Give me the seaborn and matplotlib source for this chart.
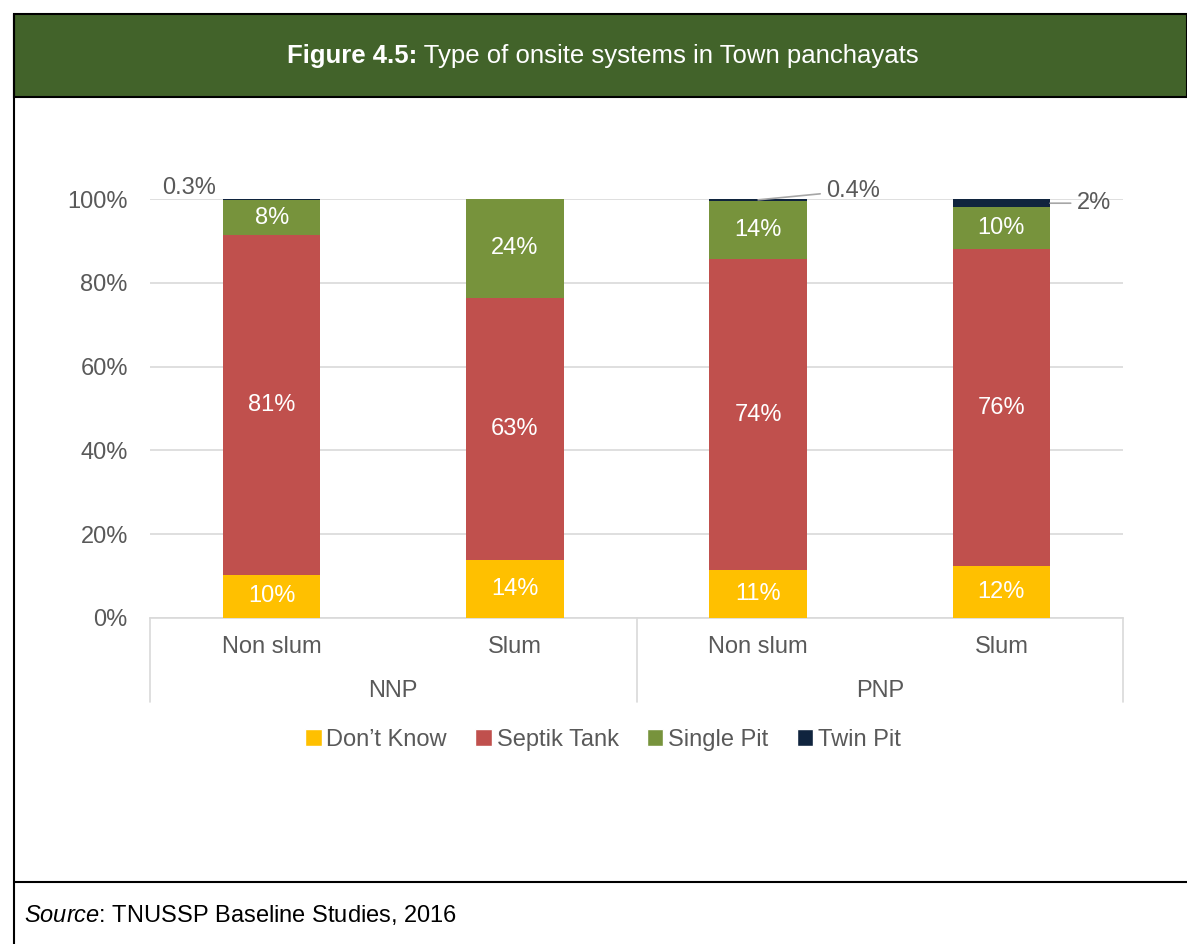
import numpy as np
import pandas as pd
import matplotlib.pyplot as plt
from matplotlib.patches import Rectangle, Patch
from matplotlib.lines import Line2D
import matplotlib.transforms as mtrans
import seaborn as sns

sns.set_theme(style="white")
plt.rcParams['font.family'] = ['Liberation Sans', 'DejaVu Sans']
plt.rcParams['mathtext.fontset'] = 'custom'
plt.rcParams['mathtext.rm'] = 'Liberation Sans'
plt.rcParams['mathtext.bf'] = 'Liberation Sans:bold'
plt.rcParams['mathtext.it'] = 'Liberation Sans:italic'

# data
groups = ["NNP", "NNP", "PNP", "PNP"]
areas = ["Non slum", "Slum", "Non slum", "Slum"]
types = ["Don’t Know", "Septik Tank", "Single Pit", "Twin Pit"]
dont_know = [10.3, 13.8, 11.4, 12.3]
septik_tank = [81.1, 62.6, 74.3, 75.8]
single_pit = [8.3, 23.6, 13.9, 9.9]
twin_pit = [0.3, 0.0, 0.4, 2.0]
colors = ["#FFC000", "#C0504D", "#77933C", "#10243E"]

GREY = "#595959"
FS = 17

pos = [str(i) for i in range(len(areas))]
series = [dont_know, septik_tank, single_pit, twin_pit]
cum = np.cumsum(np.array(series), axis=0)
rows = []
for t, vals, cvals in zip(types, series, cum):
    for p, v, c in zip(pos, vals, cvals):
        rows.append({"pos": p, "type": t, "value": v, "cum": c})
df = pd.DataFrame(rows)

fig = plt.figure(figsize=(11.87, 9.44), dpi=100)

# frame / header
W, H = 1187, 944
def fx(x): return x / W
def fy(y): return 1 - y / H
fig.add_artist(Rectangle((fx(14), fy(97)), 1 - fx(14), fy(14) - fy(97),
                         transform=fig.transFigure, facecolor="#42632A",
                         edgecolor="black", linewidth=1.5))
fig.add_artist(Line2D([fx(14), fx(14)], [fy(14), 0], transform=fig.transFigure,
                      color="black", linewidth=1.5))
fig.add_artist(Line2D([fx(14), 1], [fy(882), fy(882)], transform=fig.transFigure,
                      color="black", linewidth=1.5))

# title: bold part + regular part, centred together
renderer = fig.canvas.get_renderer()
t1 = fig.text(0, fy(56), "Figure 4.5:", color="white", fontsize=18.5,
              fontweight="bold", ha="left", va="center")
t2 = fig.text(0, fy(56), " Type of onsite systems in Town panchayats", color="white",
              fontsize=18.5, ha="left", va="center")
w1 = t1.get_window_extent(renderer).width
w2 = t2.get_window_extent(renderer).width
x0 = 603 - (w1 + w2) / 2
t1.set_x(fx(x0))
t2.set_x(fx(x0 + w1))

fig.text(fx(24), fy(915), r"$\it{Source}$: TNUSSP Baseline Studies, 2016",
         color="black", fontsize=17, ha="left", va="center")

ax = fig.add_axes([fx(150), fy(618), fx(1123) - fx(150), fy(199) - fy(618)])

# stacked bars by overlapping cumulative totals
for t, col in reversed(list(zip(types, colors))):
    sns.barplot(data=df[df["type"] == t], x="pos", y="cum", order=pos, color=col,
                saturation=1, width=0.4, errorbar=None, ax=ax, zorder=3,
                linewidth=0, edgecolor="none")

ax.set_xlim(-0.5, 3.5)
ax.set_ylim(0, 100)
ax.set_yticks(np.arange(0, 101, 20))
ax.set_yticklabels([f"{v}%" for v in range(0, 101, 20)], color=GREY, fontsize=FS)
ax.yaxis.grid(True, color="#D9D9D9", linewidth=1.2, zorder=0)
ax.set_axisbelow(True)
for s in ["top", "right", "left"]:
    ax.spines[s].set_visible(False)
ax.spines["bottom"].set_color("#D9D9D9")
ax.spines["bottom"].set_linewidth(1.2)
ax.tick_params(axis="y", length=0, pad=16)
ax.tick_params(axis="x", length=0, pad=13)
ax.set_xticks(range(len(areas)))
ax.set_xticklabels(areas, color=GREY, fontsize=FS)
ax.set_xlabel("")
ax.set_ylabel("")

# group labels and separators
trans = mtrans.blended_transform_factory(ax.transData, ax.transAxes)
for x in [-0.5, 1.5, 3.5]:
    ax.add_line(Line2D([x, x], [0, -0.2], transform=trans, color="#D9D9D9",
                       linewidth=1.2, clip_on=False))
uniq = list(dict.fromkeys(groups))
for g in uniq:
    idx = [i for i, gg in enumerate(groups) if gg == g]
    ax.text(np.mean(idx), -0.175, g, transform=trans, ha="center", va="center",
            color=GREY, fontsize=FS)

# segment labels
bottoms = np.zeros(len(areas))
for t, vals in zip(types[:3], series[:3]):
    for i, v in enumerate(vals):
        ax.text(i, bottoms[i] + v / 2, f"{v:.0f}%", ha="center", va="center",
                color="white", fontsize=FS, zorder=5)
    bottoms += np.array(vals)

# twin pit labels
ax.text(-0.2 - 0.03, 100.0, f"{twin_pit[0]:.1f}%", ha="right", va="bottom",
        color=GREY, fontsize=FS, clip_on=False)
ax.annotate(f"{twin_pit[2]:.1f}%", xy=(2, 100 - twin_pit[2] / 2), xytext=(2.28, 102),
            ha="left", va="center", color=GREY, fontsize=FS, annotation_clip=False,
            arrowprops=dict(arrowstyle="-", color="#A6A6A6", lw=1.2, shrinkA=2, shrinkB=0))
ax.annotate(f"{twin_pit[3]:.0f}%", xy=(3.2, 100 - twin_pit[3] / 2), xytext=(3.31, 99),
            ha="left", va="center", color=GREY, fontsize=FS, annotation_clip=False,
            arrowprops=dict(arrowstyle="-", color="#A6A6A6", lw=1.2, shrinkA=2, shrinkB=0))

handles = [Patch(facecolor=c, label=t) for t, c in zip(types, colors)]
fig.legend(handles=handles, loc="center", bbox_to_anchor=(fx(603), fy(740)), ncol=4,
           frameon=False, fontsize=FS, labelcolor=GREY, handlelength=0.7,
           handleheight=0.7, handletextpad=0.2, columnspacing=1.2)

fig.savefig("out.png", dpi=100)
